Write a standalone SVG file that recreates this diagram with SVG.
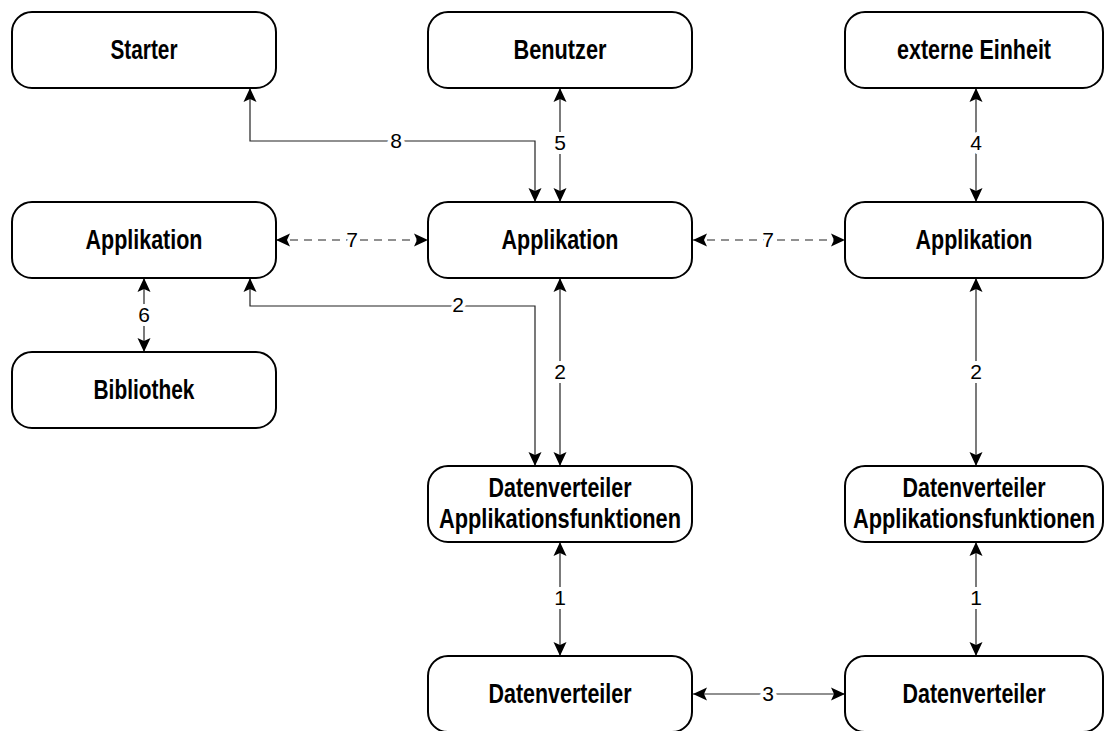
<svg xmlns="http://www.w3.org/2000/svg" width="1104" height="731" viewBox="0 0 1104 731">
<style>
.box{fill:#fff;stroke:#000;stroke-width:2}
.nt{font-family:"Liberation Sans",Arial,sans-serif;font-size:28px;font-weight:bold;fill:#000;text-anchor:middle}
.ln{fill:none;stroke:#222;stroke-width:1.2}
.dash{stroke-dasharray:8 6}
.lb{font-family:"Liberation Sans",Arial,sans-serif;font-size:21px;fill:#000;text-anchor:middle;stroke:#fff;stroke-width:8;paint-order:stroke;stroke-linejoin:round}
</style>
<defs>
<marker id="ah" markerUnits="userSpaceOnUse" viewBox="-15 -8 16 16" refX="0" refY="0" markerWidth="16" markerHeight="16" orient="auto-start-reverse">
<path d="M0,0 L-14,-6.5 L-11,0 L-14,6.5 Z" fill="#000"/>
</marker>
</defs>
<g id="connectors">
<path class="ln" d="M535,202 L535,141 L250,141 L250,88" marker-start="url(#ah)" marker-end="url(#ah)"/>
<path class="ln" d="M560,88 L560,202" marker-start="url(#ah)" marker-end="url(#ah)"/>
<path class="ln" d="M976,88 L976,202" marker-start="url(#ah)" marker-end="url(#ah)"/>
<path class="ln dash" d="M276,240 L428,240" marker-start="url(#ah)" marker-end="url(#ah)"/>
<path class="ln dash" d="M693,240 L845,240" marker-start="url(#ah)" marker-end="url(#ah)"/>
<path class="ln" d="M144,278 L144,352" marker-start="url(#ah)" marker-end="url(#ah)"/>
<path class="ln" d="M535,466 L535,306 L250,306 L250,278" marker-start="url(#ah)" marker-end="url(#ah)"/>
<path class="ln" d="M560,278 L560,466" marker-start="url(#ah)" marker-end="url(#ah)"/>
<path class="ln" d="M976,278 L976,466" marker-start="url(#ah)" marker-end="url(#ah)"/>
<path class="ln" d="M560,542 L560,656" marker-start="url(#ah)" marker-end="url(#ah)"/>
<path class="ln" d="M976,542 L976,656" marker-start="url(#ah)" marker-end="url(#ah)"/>
<path class="ln" d="M693,694 L845,694" marker-start="url(#ah)" marker-end="url(#ah)"/>
<text class="lb" x="396" y="148">8</text>
<text class="lb" x="560" y="150">5</text>
<text class="lb" x="976" y="150">4</text>
<text class="lb" x="352" y="247">7</text>
<text class="lb" x="768" y="247">7</text>
<text class="lb" x="144" y="322">6</text>
<text class="lb" x="458" y="312">2</text>
<text class="lb" x="560" y="379">2</text>
<text class="lb" x="976" y="379">2</text>
<text class="lb" x="560" y="605">1</text>
<text class="lb" x="976" y="605">1</text>
<text class="lb" x="768" y="701">3</text>
</g>
<g id="starter"><rect class="box" x="12" y="12" width="264" height="76" rx="20"/><text class="nt" x="144" y="59" textLength="67" lengthAdjust="spacingAndGlyphs">Starter</text></g>
<g id="benutzer"><rect class="box" x="428" y="12" width="264" height="76" rx="20"/><text class="nt" x="560" y="59" textLength="93" lengthAdjust="spacingAndGlyphs">Benutzer</text></g>
<g id="externe-einheit"><rect class="box" x="845" y="12" width="258" height="76" rx="20"/><text class="nt" x="974" y="59" textLength="154" lengthAdjust="spacingAndGlyphs">externe Einheit</text></g>
<g id="applikation-links"><rect class="box" x="12" y="202" width="264" height="76" rx="20"/><text class="nt" x="144" y="249" textLength="117" lengthAdjust="spacingAndGlyphs">Applikation</text></g>
<g id="applikation-mitte"><rect class="box" x="428" y="202" width="264" height="76" rx="20"/><text class="nt" x="560" y="249" textLength="117" lengthAdjust="spacingAndGlyphs">Applikation</text></g>
<g id="applikation-rechts"><rect class="box" x="845" y="202" width="258" height="76" rx="20"/><text class="nt" x="974" y="249" textLength="117" lengthAdjust="spacingAndGlyphs">Applikation</text></g>
<g id="bibliothek"><rect class="box" x="12" y="352" width="264" height="76" rx="20"/><text class="nt" x="144" y="399" textLength="101" lengthAdjust="spacingAndGlyphs">Bibliothek</text></g>
<g id="dvaf-mitte"><rect class="box" x="428" y="466" width="264" height="76" rx="20"/><text class="nt" x="560" y="497" textLength="143" lengthAdjust="spacingAndGlyphs">Datenverteiler</text><text class="nt" x="560" y="528" textLength="242" lengthAdjust="spacingAndGlyphs">Applikationsfunktionen</text></g>
<g id="dvaf-rechts"><rect class="box" x="845" y="466" width="258" height="76" rx="20"/><text class="nt" x="974" y="497" textLength="143" lengthAdjust="spacingAndGlyphs">Datenverteiler</text><text class="nt" x="974" y="528" textLength="242" lengthAdjust="spacingAndGlyphs">Applikationsfunktionen</text></g>
<g id="dv-mitte"><rect class="box" x="428" y="656" width="264" height="76" rx="20"/><text class="nt" x="560" y="703" textLength="143" lengthAdjust="spacingAndGlyphs">Datenverteiler</text></g>
<g id="dv-rechts"><rect class="box" x="845" y="656" width="258" height="76" rx="20"/><text class="nt" x="974" y="703" textLength="143" lengthAdjust="spacingAndGlyphs">Datenverteiler</text></g>
</svg>
